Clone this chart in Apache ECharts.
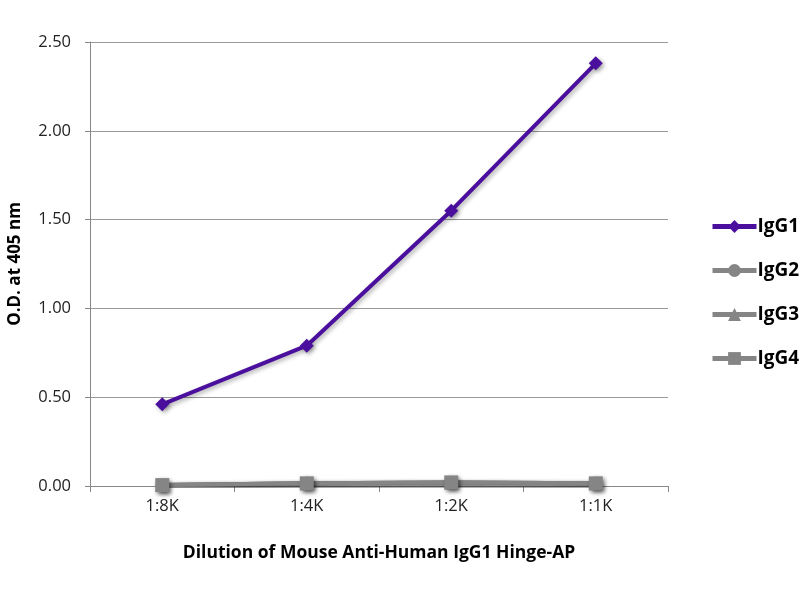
<!DOCTYPE html>
<html>
<head>
<meta charset="utf-8">
<script src="https://cdn.jsdelivr.net/npm/echarts@6/dist/echarts.min.js"></script>
<style>
  html, body { margin: 0; padding: 0; background: #fff; }
  #chart { width: 800px; height: 600px; }
</style>
</head>
<body>
<div id="chart"></div>
<script>
var categories = ['1:8K', '1:4K', '1:2K', '1:1K'];
var igg1 = [0.46, 0.79, 1.55, 2.38];
var igg2 = [0.005, 0.015, 0.02, 0.015];
var igg3 = [0.005, 0.015, 0.02, 0.015];
var igg4 = [0.005, 0.015, 0.02, 0.015];

var purple = '#4b0f9e';
var grey = '#858585';
var font = '"Open Sans", "Noto Sans", sans-serif';

function line(name, data, color, symbol, size) {
  return {
    name: name,
    type: 'line',
    data: data,
    symbol: symbol,
    symbolSize: size,
    itemStyle: { color: color, shadowColor: 'rgba(0,0,0,0.35)', shadowBlur: 4, shadowOffsetX: 2, shadowOffsetY: 2 },
    lineStyle: { color: color, width: 4, shadowColor: 'rgba(0,0,0,0.3)', shadowBlur: 4, shadowOffsetX: 2, shadowOffsetY: 2 },
    emphasis: { disabled: true },
    animation: false
  };
}

var chart = echarts.init(document.getElementById('chart'));
chart.setOption({
  backgroundColor: '#fff',
  grid: { left: 90, right: 132, top: 42, bottom: 114, outerBoundsMode: 'none' },
  legend: {
    orient: 'vertical',
    left: 705,
    top: 212,
    itemGap: 25,
    itemWidth: 44,
    itemHeight: 16,
    lineStyle: { width: 5 },
    textStyle: { fontFamily: font, fontWeight: 'bold', fontSize: 19, color: '#000', padding: [0, 0, 0, -4] },
    data: ['IgG1', 'IgG2', 'IgG3', 'IgG4']
  },
  xAxis: {
    type: 'category',
    data: categories,
    boundaryGap: true,
    name: 'Dilution of Mouse Anti-Human IgG1 Hinge-AP',
    nameLocation: 'middle',
    nameGap: 58,
    nameTextStyle: { fontFamily: font, fontWeight: 'bold', fontSize: 17.5, color: '#000' },
    axisLine: { lineStyle: { color: '#888', width: 1 } },
    axisTick: { show: true, length: 6, lineStyle: { color: '#888' } },
    axisLabel: { fontFamily: font, fontSize: 16.5, color: '#222', margin: 12 }
  },
  yAxis: {
    type: 'value',
    min: 0,
    max: 2.5,
    interval: 0.5,
    name: 'O.D. at 405 nm',
    nameLocation: 'middle',
    nameGap: 66,
    nameTextStyle: { fontFamily: font, fontWeight: 'bold', fontSize: 17, color: '#000' },
    axisLine: { show: true, lineStyle: { color: '#888' } },
    axisTick: { show: true, length: 5, lineStyle: { color: '#888' } },
    axisLabel: {
      fontFamily: font, fontSize: 16.5, color: '#222', margin: 19,
      formatter: function (v) { return v.toFixed(2); }
    },
    splitLine: { show: true, lineStyle: { color: '#999', width: 1 } }
  },
  series: [
    line('IgG1', igg1, purple, 'diamond', 14),
    line('IgG2', igg2, grey, 'circle', 13),
    line('IgG3', igg3, grey, 'triangle', 14),
    line('IgG4', igg4, grey, 'rect', 14)
  ]
});
</script>
</body>
</html>
